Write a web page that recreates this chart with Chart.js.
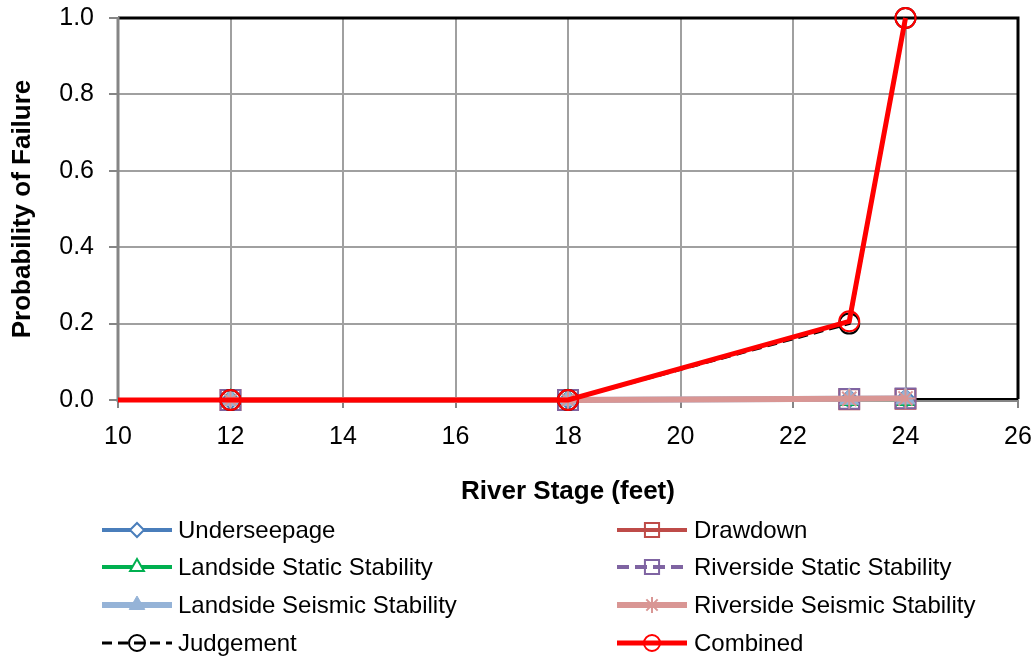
<!DOCTYPE html>
<html>
<head>
<meta charset="utf-8">
<script src="https://cdn.jsdelivr.net/npm/chart.js@4/dist/chart.umd.min.js"></script>
<style>
  html, body { margin: 0; padding: 0; background: #ffffff; }
  #wrap { width: 1034px; height: 658px; }
</style>
</head>
<body>
<div id="wrap"><canvas id="chart" width="1034" height="658"></canvas></div>
<script>
// River stage (feet) at which each failure mode was evaluated
const stages = [12, 18, 23, 24];
// Combined curve also starts at the left edge of the axis
const combinedStages = [10, 12, 18, 23, 24];

// Probability of failure per mode
const underseepage     = [0, 0, 0.003, 0.004];
const drawdown         = [0, 0, 0.002, 0.003];
const landsideStatic   = [0, 0, 0, 0];
const riversideStatic  = [0, 0, 0.003, 0.004];
const landsideSeismic  = [0, 0, 0.003, 0.004];
const riversideSeismic = [0, 0, 0.003, 0.004];
const judgement        = [0, 0, 0.200, 1.0];
const combined         = [0, 0, 0, 0.206, 1.0];

const seriesNames = [
  'Underseepage', 'Drawdown',
  'Landside Static Stability', 'Riverside Static Stability',
  'Landside Seismic Stability', 'Riverside Seismic Stability',
  'Judgement', 'Combined'
];

const xTicks = [10, 12, 14, 16, 18, 20, 22, 24, 26];
const yTicks = [0, 0.2, 0.4, 0.6, 0.8, 1.0];

const FONT = '"Liberation Sans", Arial, sans-serif';

function pts(xs, ys) { return xs.map((x, i) => ({ x: x, y: ys[i] })); }

// line and marker style per series; lr = marker radius in the legend
const styles = [
  { color: '#4a7ebb', width: 4, dash: [], style: 'rectRot', r: 9, lr: 7, fill: '#ffffff', bw: 2 },
  { color: '#be4b48', width: 4, dash: [], style: 'rect', r: 14, lr: 10, fill: 'rgba(0,0,0,0)', bw: 2 },
  { color: '#00b050', width: 4, dash: [], style: 'triangle', r: 10, lr: 8, fill: '#ffffff', bw: 2 },
  { color: '#7f64a2', width: 4, dash: [12, 6], style: 'rect', r: 14, lr: 10, fill: 'rgba(0,0,0,0)', bw: 2 },
  { color: '#95b3d7', width: 6, dash: [], style: 'triangle', r: 11, lr: 9, fill: '#95b3d7', bw: 1 },
  { color: '#d99694', width: 6, dash: [], style: 'star', r: 10, lr: 8, fill: '#d99694', bw: 2 },
  { color: '#000000', width: 3, dash: [10, 6], style: 'circle', r: 10, lr: 8, fill: 'rgba(0,0,0,0)', bw: 2 },
  { color: '#ff0000', width: 5, dash: [], style: 'circle', r: 10, lr: 8, fill: 'rgba(0,0,0,0)', bw: 2 }
];

const seriesData = [
  pts(stages, underseepage),
  pts(stages, drawdown),
  pts(stages, landsideStatic),
  pts(stages, riversideStatic),
  pts(stages, landsideSeismic),
  pts(stages, riversideSeismic),
  pts(stages, judgement),
  pts(combinedStages, combined)
];

const datasets = seriesNames.map((name, i) => {
  const s = styles[i];
  const d = seriesData[i];
  return {
    label: name,
    data: d,
    showLine: true,
    borderColor: s.color,
    borderWidth: s.width,
    borderDash: s.dash,
    pointStyle: s.style,
    // the Combined curve has no marker at its starting point on the axis
    pointRadius: d.map(p => (p.x === 10 ? 0 : s.r)),
    pointBackgroundColor: s.fill,
    pointBorderColor: s.color,
    pointBorderWidth: s.bw,
    pointHoverRadius: s.r,
    tension: 0,
    clip: false,
    order: seriesNames.length - i
  };
});

// Plot frame: black box, grey axis lines on left and bottom
const framePlugin = {
  id: 'frame',
  beforeDatasetsDraw(chart) {
    const { ctx, chartArea: a } = chart;
    ctx.save();
    ctx.strokeStyle = '#000000';
    ctx.lineWidth = 3;
    ctx.beginPath();
    ctx.moveTo(a.left, a.top);
    ctx.lineTo(a.right, a.top);
    ctx.lineTo(a.right, a.bottom - 1);
    ctx.stroke();
    ctx.lineWidth = 2;
    ctx.beginPath();
    ctx.moveTo(a.left, a.bottom - 1);
    ctx.lineTo(a.right, a.bottom - 1);
    ctx.stroke();
    ctx.strokeStyle = '#858585';
    ctx.lineWidth = 2;
    ctx.beginPath();
    ctx.moveTo(a.left, a.bottom + 1);
    ctx.lineTo(a.right, a.bottom + 1);
    ctx.stroke();
    ctx.lineWidth = 3;
    ctx.beginPath();
    ctx.moveTo(a.left, a.top - 1);
    ctx.lineTo(a.left, a.bottom + 2);
    ctx.stroke();
    ctx.restore();
  }
};

// Two-column legend below the axis title
const legendPlugin = {
  id: 'twoColLegend',
  afterDraw(chart) {
    const { ctx } = chart;
    const rowY = [530, 567, 605, 643];
    const lineX0 = [102, 617];
    const lineX1 = [172, 687];
    const textX = [178, 694];
    ctx.save();
    chart.data.datasets.forEach((ds, i) => {
      const col = i % 2;
      const row = Math.floor(i / 2);
      const y = rowY[row];
      const s = styles[i];
      ctx.strokeStyle = s.color;
      ctx.lineWidth = s.width;
      ctx.setLineDash(s.dash);
      ctx.lineCap = 'butt';
      ctx.beginPath();
      ctx.moveTo(lineX0[col], y);
      ctx.lineTo(lineX1[col], y);
      ctx.stroke();
      ctx.setLineDash([]);
      const cx = (lineX0[col] + lineX1[col]) / 2;
      ctx.fillStyle = s.fill;
      ctx.strokeStyle = s.color;
      ctx.lineWidth = s.bw;
      Chart.helpers.drawPoint(ctx, {
        pointStyle: s.style,
        radius: s.lr,
        rotation: 0,
        borderWidth: s.bw
      }, cx, y);
      ctx.fillStyle = '#000000';
      ctx.font = '24px ' + FONT;
      ctx.textAlign = 'left';
      ctx.textBaseline = 'middle';
      ctx.fillText(ds.label, textX[col], y + 1);
    });
    ctx.restore();
  }
};

new Chart(document.getElementById('chart'), {
  type: 'scatter',
  data: { datasets: datasets },
  options: {
    responsive: false,
    animation: false,
    devicePixelRatio: 1,
    layout: { padding: { top: 18, right: 16, bottom: 150, left: 0 } },
    plugins: {
      legend: { display: false },
      tooltip: { enabled: false }
    },
    scales: {
      x: {
        type: 'linear',
        min: xTicks[0],
        max: xTicks[xTicks.length - 1],
        afterBuildTicks: scale => { scale.ticks = xTicks.map(v => ({ value: v })); },
        afterFit: scale => {
          scale.height = 108;
          scale.paddingLeft = 0;
          scale.paddingRight = 0;
        },
        ticks: {
          color: '#000000',
          font: { family: FONT, size: 25 },
          padding: 14,
          maxRotation: 0,
          callback: v => String(v)
        },
        grid: { color: '#a0a0a0', lineWidth: 2, tickLength: 8, tickColor: '#858585', tickWidth: 2 },
        border: { display: false },
        title: {
          display: true,
          text: 'River Stage (feet)',
          color: '#000000',
          font: { family: FONT, size: 26, weight: 'bold' },
          padding: { top: 0, bottom: 1 }
        }
      },
      y: {
        type: 'linear',
        min: yTicks[0],
        max: yTicks[yTicks.length - 1],
        afterBuildTicks: scale => { scale.ticks = yTicks.map(v => ({ value: v })); },
        afterFit: scale => {
          scale.width = 118;
          scale.paddingTop = 0;
          scale.paddingBottom = 0;
        },
        ticks: {
          color: '#000000',
          font: { family: FONT, size: 25 },
          padding: 15,
          callback: v => Number(v).toFixed(1)
        },
        grid: { color: '#a0a0a0', lineWidth: 2, tickLength: 9, tickColor: '#858585', tickWidth: 2 },
        border: { display: false },
        title: {
          display: true,
          text: 'Probability of Failure',
          color: '#000000',
          font: { family: FONT, size: 26, weight: 'bold' },
          padding: { top: 7, bottom: 0 }
        }
      }
    }
  },
  plugins: [framePlugin, legendPlugin]
});
</script>
</body>
</html>
